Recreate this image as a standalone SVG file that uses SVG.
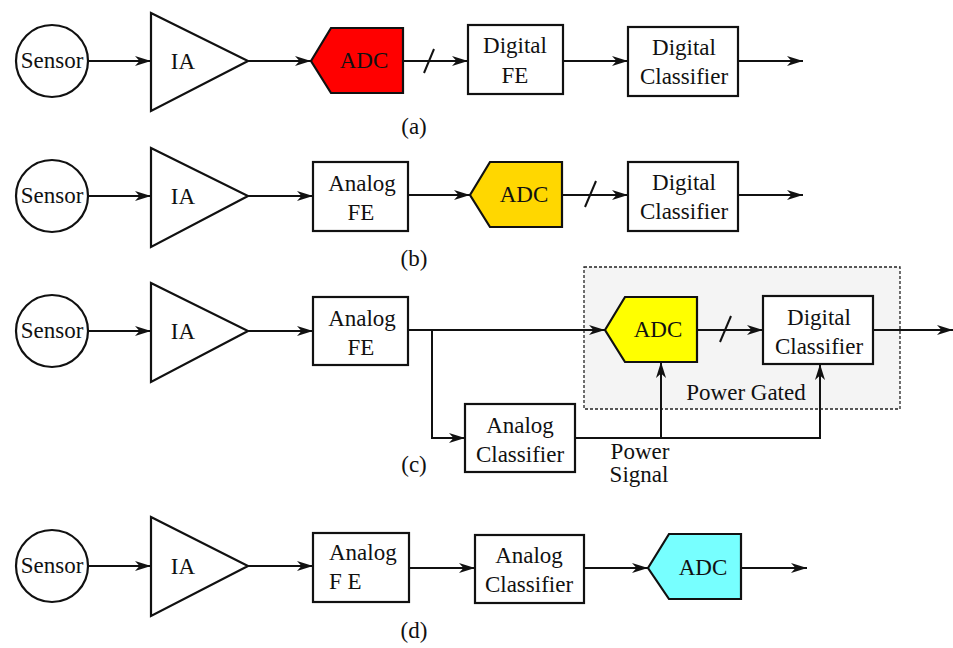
<svg xmlns="http://www.w3.org/2000/svg" width="953" height="648" viewBox="0 0 953 648">
  <style>
    .t { font-family: 'Liberation Serif', 'DejaVu Serif', serif; font-size: 23px; fill: #111; text-anchor: middle; }
    .box { fill: #fff; stroke: #111; stroke-width: 2.2; }
    .wire { fill: none; stroke: #111; stroke-width: 2; }
    .arr { marker-end: url(#head); }
    .slash { stroke: #111; stroke-width: 2; }
    .gate { fill: #f4f4f4; stroke: #222; stroke-width: 1.3; stroke-dasharray: 3 2; }
  </style>
  <defs>
    <marker id="head" markerUnits="userSpaceOnUse" markerWidth="17" markerHeight="12" refX="16" refY="6" orient="auto">
      <path d="M0,1 L16,6 L0,11 L4.5,6 Z" fill="#111"/>
    </marker>
  </defs>

  <rect width="953" height="648" fill="#fff"/>

  <!-- power-gated region in (c) -->
  <rect id="power-gated" class="gate" x="584" y="267" width="316" height="142"/>

  <!-- connectors -->
  <g id="connectors">
    <!-- (a) -->
    <line class="wire arr" x1="88" y1="61" x2="151" y2="61"/>
    <line class="wire arr" x1="248" y1="61" x2="311" y2="61"/>
    <line class="wire arr" x1="403" y1="61" x2="468" y2="61"/>
    <line class="slash" x1="424" y1="73" x2="434" y2="49"/>
    <line class="wire arr" x1="563" y1="61" x2="628" y2="61"/>
    <line class="wire arr" x1="738" y1="61" x2="803" y2="61"/>
    <!-- (b) -->
    <line class="wire arr" x1="88" y1="196" x2="151" y2="196"/>
    <line class="wire arr" x1="248" y1="196" x2="313" y2="196"/>
    <line class="wire arr" x1="408" y1="195" x2="470" y2="195"/>
    <line class="wire arr" x1="562" y1="195" x2="628" y2="195"/>
    <line class="slash" x1="585" y1="207" x2="596" y2="181"/>
    <line class="wire arr" x1="738" y1="195" x2="803" y2="195"/>
    <!-- (c) -->
    <line class="wire arr" x1="88" y1="331" x2="151" y2="331"/>
    <line class="wire arr" x1="248" y1="331" x2="313" y2="331"/>
    <line class="wire arr" x1="408" y1="330" x2="605" y2="330"/>
    <polyline class="wire arr" points="432,330 432,438 465,438"/>
    <line class="wire arr" x1="697" y1="330" x2="763" y2="330"/>
    <line class="slash" x1="720" y1="342" x2="731" y2="316"/>
    <line class="wire arr" x1="873" y1="330" x2="953" y2="330"/>
    <polyline class="wire arr" points="575,438 820,438 820,364"/>
    <line class="wire arr" x1="661" y1="438" x2="661" y2="362"/>
    <!-- (d) -->
    <line class="wire arr" x1="88" y1="566" x2="151" y2="566"/>
    <line class="wire arr" x1="248" y1="566" x2="313" y2="566"/>
    <line class="wire arr" x1="409" y1="568" x2="475" y2="568"/>
    <line class="wire arr" x1="584" y1="568" x2="648" y2="568"/>
    <line class="wire arr" x1="741" y1="568" x2="807" y2="568"/>
  </g>

  <g class="t" font-family="Liberation Serif, DejaVu Serif, serif">
    <text x="746" y="400">Power Gated</text>

    <!-- (a) -->
    <g id="a-sensor"><circle class="box" cx="52" cy="61" r="36"/><text x="52" y="68">Sensor</text></g>
    <g id="a-ia"><polygon class="box" points="151,13 248,61 151,111"/><text x="183" y="69">IA</text></g>
    <g id="a-adc"><polygon class="box" style="fill:#ff0000" points="311,61 331,28 403,28 403,93 331,93"/><text x="364" y="68">ADC</text></g>
    <g id="a-dfe"><rect class="box" x="468" y="25" width="95" height="69"/><text x="515" y="53">Digital</text><text x="515" y="83">FE</text></g>
    <g id="a-dcls"><rect class="box" x="628" y="27" width="110" height="69"/><text x="684" y="55">Digital</text><text x="684" y="84">Classifier</text></g>
    <text x="414" y="134">(a)</text>

    <!-- (b) -->
    <g id="b-sensor"><circle class="box" cx="52" cy="196" r="36"/><text x="52" y="203">Sensor</text></g>
    <g id="b-ia"><polygon class="box" points="151,148 248,196 151,247"/><text x="183" y="204">IA</text></g>
    <g id="b-afe"><rect class="box" x="313" y="162" width="95" height="69"/><text x="362" y="191">Analog</text><text x="361" y="220">FE</text></g>
    <g id="b-adc"><polygon class="box" style="fill:#ffd700" points="470,195 490,162 562,162 562,227 490,227"/><text x="524" y="202">ADC</text></g>
    <g id="b-dcls"><rect class="box" x="628" y="162" width="110" height="69"/><text x="684" y="190">Digital</text><text x="684" y="219">Classifier</text></g>
    <text x="414" y="266">(b)</text>

    <!-- (c) -->
    <g id="c-sensor"><circle class="box" cx="52" cy="331" r="36"/><text x="52" y="338">Sensor</text></g>
    <g id="c-ia"><polygon class="box" points="151,283 248,331 151,382"/><text x="183" y="339">IA</text></g>
    <g id="c-afe"><rect class="box" x="313" y="297" width="95" height="68"/><text x="362" y="326">Analog</text><text x="361" y="355">FE</text></g>
    <g id="c-adc"><polygon class="box" style="fill:#ffff00" points="605,330 625,297 697,297 697,362 625,362"/><text x="658" y="337">ADC</text></g>
    <g id="c-dcls"><rect class="box" x="763" y="296" width="110" height="68"/><text x="819" y="325">Digital</text><text x="819" y="354">Classifier</text></g>
    <g id="c-acls"><rect class="box" x="465" y="404" width="110" height="68"/><text x="520" y="433">Analog</text><text x="520" y="462">Classifier</text></g>
    <text x="640" y="459">Power</text>
    <text x="639" y="482">Signal</text>
    <text x="414" y="472">(c)</text>

    <!-- (d) -->
    <g id="d-sensor"><circle class="box" cx="52" cy="566" r="36"/><text x="52" y="573">Sensor</text></g>
    <g id="d-ia"><polygon class="box" points="151,517 248,566 151,616"/><text x="183" y="574">IA</text></g>
    <g id="d-afe"><rect class="box" x="313" y="533" width="96" height="69"/><text x="329" y="560" style="text-anchor:start">Analog</text><text x="329" y="589" style="text-anchor:start">F E</text></g>
    <g id="d-acls"><rect class="box" x="475" y="535" width="109" height="68"/><text x="529" y="563">Analog</text><text x="529" y="592">Classifier</text></g>
    <g id="d-adc"><polygon class="box" style="fill:#77ffff" points="648,568 669,534 741,534 741,599 669,599"/><text x="703" y="575">ADC</text></g>
    <text x="414" y="638">(d)</text>
  </g>
</svg>
